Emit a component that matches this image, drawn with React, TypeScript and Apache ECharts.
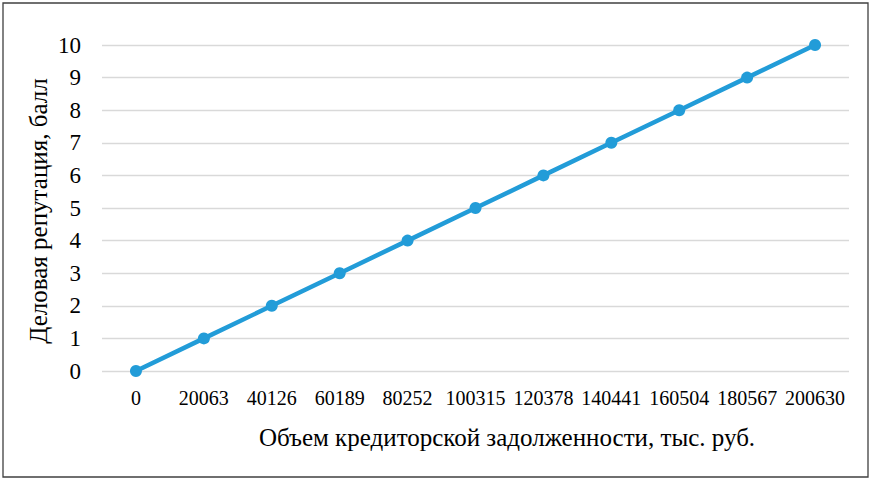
import React, { useEffect, useRef } from "react";
import * as echarts from "echarts";

const categories = ["0", "20063", "40126", "60189", "80252", "100315", "120378", "140441", "160504", "180567", "200630"];
const values = [0, 1, 2, 3, 4, 5, 6, 7, 8, 9, 10];
const yTitle = "Деловая репутация, балл";
const xTitle = "Объем кредиторской задолженности, тыс. руб.";

export default function App() {
  const ref = useRef<HTMLDivElement>(null);
  useEffect(() => {
    const chart = echarts.init(ref.current!, null, { renderer: "svg" });
    const font = "Liberation Serif";
    chart.setOption({
      animation: false,
      backgroundColor: "#ffffff",
      grid: { left: 102, right: 22, top: 45, bottom: 110 },
      xAxis: {
        type: "category",
        data: categories,
        boundaryGap: true,
        axisLine: { show: false },
        axisTick: { show: false },
        axisLabel: { color: "#000", fontFamily: font, fontSize: 20, margin: 17, interval: 0 },
      },
      yAxis: {
        type: "value",
        min: 0,
        max: 10,
        interval: 1,
        axisLine: { show: false },
        axisTick: { show: false },
        axisLabel: { color: "#000", fontFamily: font, fontSize: 23, margin: 21 },
        splitLine: { lineStyle: { color: "#d9d9d9", width: 1.3 } },
      },
      series: [
        {
          type: "line",
          data: values,
          symbol: "circle",
          symbolSize: 12,
          lineStyle: { color: "#229cd8", width: 4.5 },
          itemStyle: { color: "#229cd8" },
        },
      ],
      graphic: [
        {
          type: "rect",
          shape: { x: 3, y: 3, width: 865, height: 474 },
          style: { fill: "none", stroke: "#404040", lineWidth: 1.3 },
          z: -1,
        },
        {
          type: "text",
          x: 38,
          y: 211,
          rotation: Math.PI / 2,
          style: { text: yTitle, fontFamily: font, fontSize: 25, fill: "#000", align: "center", verticalAlign: "middle" },
        },
        {
          type: "text",
          x: 507,
          y: 437,
          style: { text: xTitle, fontFamily: font, fontSize: 25, fill: "#000", align: "center", verticalAlign: "middle" },
        },
      ],
    });
    return () => chart.dispose();
  }, []);
  return <div ref={ref} style={{ position: "fixed", left: 0, top: 0, width: 871, height: 481 }} />;
}
